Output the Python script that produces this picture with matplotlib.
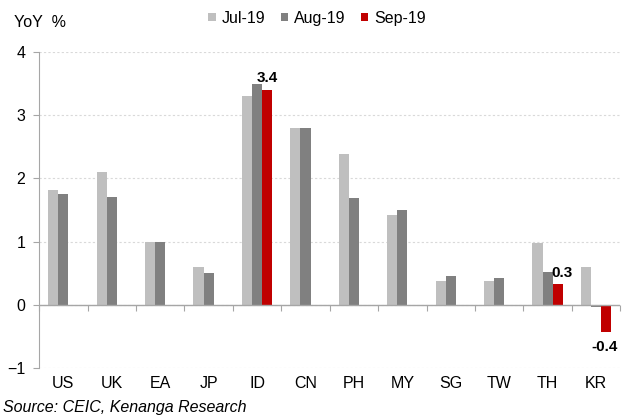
import numpy as np
import matplotlib
matplotlib.use("Agg")
import matplotlib.pyplot as plt

plt.rcParams['font.family'] = ['Liberation Sans', 'DejaVu Sans']

countries = ["US", "UK", "EA", "JP", "ID", "CN", "PH", "MY", "SG", "TW", "TH", "KR"]
jul19 = [1.81, 2.10, 1.00, 0.60, 3.31, 2.80, 2.39, 1.42, 0.38, 0.38, 0.98, 0.60]
aug19 = [1.75, 1.70, 1.00, 0.50, 3.49, 2.80, 1.69, 1.50, 0.46, 0.43, 0.51, -0.03]
# Sep-19 only released for a few countries
sep19 = [np.nan, np.nan, np.nan, np.nan, 3.39, np.nan, np.nan, np.nan, np.nan, np.nan, 0.32, -0.43]
sep_labels = {4: "3.4", 10: "0.3", 11: "-0.4"}

c_jul = "#BFBFBF"
c_aug = "#808080"
c_sep = "#C00000"
axis_col = "#A6A6A6"

fig = plt.figure(figsize=(6.31, 4.19), dpi=100)
ax = fig.add_axes([0.062, 0.122, 0.921, 0.754])

x = np.arange(len(countries))
w = 0.21
ax.bar(x - w, jul19, w, color=c_jul, label="Jul-19", zorder=3)
ax.bar(x, aug19, w, color=c_aug, label="Aug-19", zorder=3)
ax.bar(x + w, sep19, w, color=c_sep, label="Sep-19", zorder=3)

for i, txt in sep_labels.items():
    v = sep19[i]
    if i == 4:
        ax.annotate(txt, (x[i] + w, v), xytext=(0, 4), textcoords="offset points",
                    ha="center", va="bottom", fontsize=11, fontweight="bold")
    elif v >= 0:
        ax.annotate(txt, (x[i] + w / 2, v), xytext=(-1, 3), textcoords="offset points",
                    ha="left", va="bottom", fontsize=11, fontweight="bold")
    else:
        ax.annotate(txt, (x[i] + w, v), xytext=(-1, -6), textcoords="offset points",
                    ha="center", va="top", fontsize=11, fontweight="bold")

ax.set_xlim(-0.5, len(countries) - 0.5)
ax.set_ylim(-1, 4)
ax.set_yticks([-1, 0, 1, 2, 3, 4])
ax.set_xticks(x)
ax.set_xticklabels(countries)
ax.tick_params(axis="x", length=0, pad=6, labelsize=11.5)
ax.tick_params(axis="y", length=4, color=axis_col, pad=6, labelsize=11.5)

for s in ["top", "right", "bottom"]:
    ax.spines[s].set_visible(False)
ax.spines["left"].set_color(axis_col)

ax.yaxis.grid(True, linestyle=(0, (2, 2)), color="#D9D9D9", linewidth=0.8, zorder=0)
ax.axhline(0, color=axis_col, linewidth=1.0, zorder=4)

# boundary tick marks hanging off the zero line
sec = ax.secondary_xaxis(0.2)
sec.set_xticks(np.arange(len(countries) + 1) - 0.5)
sec.set_xticklabels([])
sec.tick_params(length=4, color=axis_col, direction="out")
sec.spines["bottom"].set_visible(False)

fig.text(0.022, 0.947, "YoY  %", fontsize=11.5, va="center", ha="left")
ax.legend(loc="center", bbox_to_anchor=(0.503, 0.957), bbox_transform=fig.transFigure,
          ncol=3, frameon=False, fontsize=11.5, handlelength=0.45, handleheight=0.45,
          handletextpad=0.4, columnspacing=0.95)
fig.text(0.004, 0.027, "Source: CEIC, Kenanga Research", fontsize=11.5, style="italic",
         va="center", ha="left")

fig.savefig("out.png", dpi=100)
